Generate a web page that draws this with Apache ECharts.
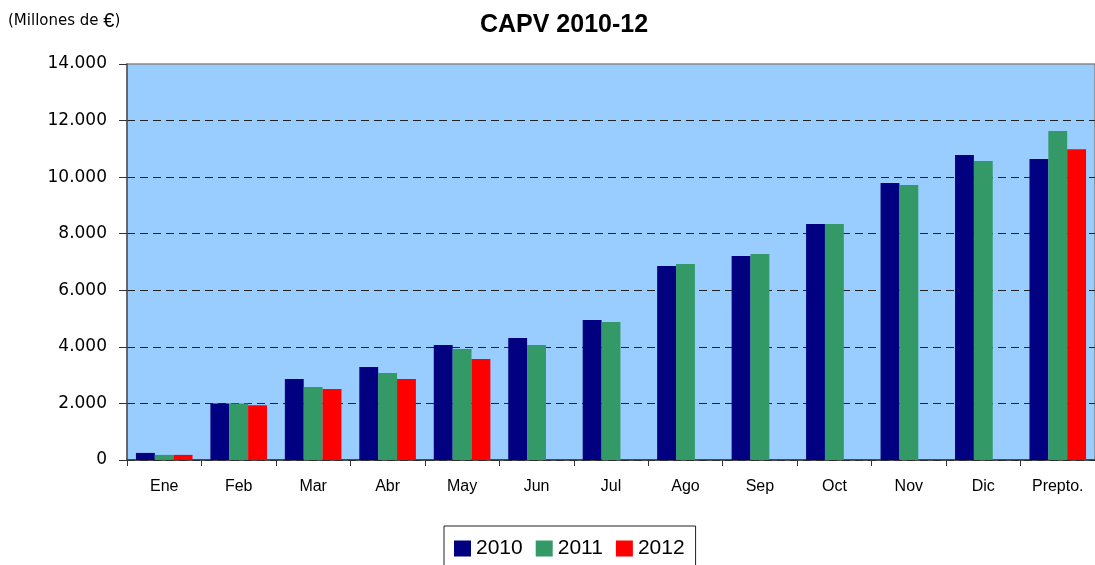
<!DOCTYPE html>
<html>
<head>
<meta charset="utf-8">
<script src="https://cdn.jsdelivr.net/npm/echarts@6/dist/echarts.min.js"></script>
<style>
  html, body { margin: 0; padding: 0; background: #fff; }
  #container { width: 1095px; height: 565px; }
</style>
</head>
<body>
<div id="container"></div>
<script>
    var months = ['Ene', 'Feb', 'Mar', 'Abr', 'May', 'Jun', 'Jul', 'Ago', 'Sep', 'Oct', 'Nov', 'Dic', 'Prepto.'];
    var y2010 = [250, 2000, 2860, 3290, 4065, 4310, 4950, 6860, 7210, 8340, 9790, 10780, 10640];
    var y2011 = [180, 2000, 2580, 3075, 3925, 4065, 4880, 6930, 7280, 8340, 9720, 10570, 11630];
    var y2012 = [180, 1940, 2510, 2860, 3570, null, null, null, null, null, null, null, 10990];

    var dom = document.getElementById('container');
    var myChart = echarts.init(dom);

    function fmtMiles(v) {
        return String(v).replace(/\B(?=(\d{3})+(?!\d))/g, '.');
    }

    var option = {
        animation: false,
        textStyle: { fontFamily: 'Liberation Sans' },
        graphic: [
            {
                type: 'text',
                left: 8,
                top: 11,
                style: {
                    text: '(Millones de {e|€})',
                    fontSize: 15,
                    fill: '#000',
                    fontFamily: 'DejaVu Sans',
                    rich: { e: { fontSize: 20, fontFamily: 'Liberation Sans' } }
                }
            }
        ],
        title: {
            text: 'CAPV 2010-12',
            left: 559,
            textAlign: 'center',
            top: 8,
            textStyle: { fontSize: 25, fontWeight: 'bold', color: '#000', fontFamily: 'Liberation Sans' }
        },
        legend: {
            left: 444,
            top: 526,
            padding: [12, 11, 30, 10],
            borderColor: '#222',
            borderWidth: 1,
            itemWidth: 17,
            itemHeight: 16,
            itemGap: 13,
            icon: 'rect',
            textStyle: { fontSize: 21, color: '#000' },
            data: ['2010', '2011', '2012']
        },
        grid: {
            left: 127,
            right: -3,
            top: 64,
            bottom: 105,
            show: true,
            backgroundColor: '#99CCFF',
            borderColor: '#888',
            borderWidth: 1.5
        },
        xAxis: {
            type: 'category',
            data: months,
            axisLine: { lineStyle: { color: '#333', width: 1.5 } },
            axisTick: { show: true, length: 6, lineStyle: { color: '#333' } },
            axisLabel: { fontSize: 16, color: '#000', margin: 19 }
        },
        yAxis: {
            type: 'value',
            min: 0,
            max: 14000,
            interval: 2000,
            axisLine: { show: true, lineStyle: { color: '#555', width: 1.5 } },
            axisTick: { show: true, length: 8, lineStyle: { color: '#333' } },
            axisLabel: { fontSize: 17, color: '#000', margin: 20, fontFamily: 'DejaVu Sans', formatter: fmtMiles },
            splitLine: { showMaxLine: false, lineStyle: { color: '#222', type: [8, 5], width: 1 } }
        },
        series: [
            { name: '2010', type: 'bar', data: y2010, barGap: '0%', barCategoryGap: '24%', itemStyle: { color: '#000080' } },
            { name: '2011', type: 'bar', data: y2011, itemStyle: { color: '#339966' } },
            { name: '2012', type: 'bar', data: y2012, itemStyle: { color: '#FF0000' } }
        ]
    };

    myChart.setOption(option);
</script>
</body>
</html>
